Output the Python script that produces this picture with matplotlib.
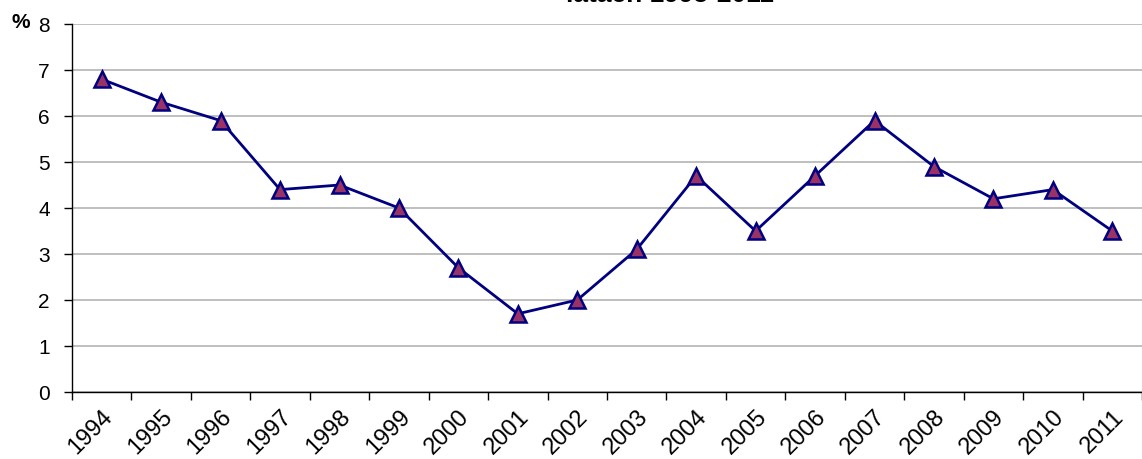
import matplotlib
matplotlib.use("Agg")
import matplotlib.pyplot as plt
import matplotlib.transforms as mtransforms
import numpy as np

years = ["1994", "1995", "1996", "1997", "1998", "1999", "2000", "2001", "2002",
         "2003", "2004", "2005", "2006", "2007", "2008", "2009", "2010", "2011"]
values = [6.8, 6.3, 5.9, 4.4, 4.5, 4.0, 2.7, 1.7, 2.0,
          3.1, 4.7, 3.5, 4.7, 5.9, 4.9, 4.2, 4.4, 3.5]
yticks = [0, 1, 2, 3, 4, 5, 6, 7, 8]
title = "latach 1995-2011"

plt.rcParams['font.family'] = ['Liberation Sans', 'DejaVu Sans']

fig = plt.figure(figsize=(11.42, 4.59), dpi=100)
ax = fig.add_axes([72/1142, 1 - 392/459, (1142 - 72)/1142, (392 - 24)/459])

x = np.arange(len(years))
ax.plot(x, values, color='#000080', lw=2.0, marker='^', markersize=11,
        markerfacecolor='#993366', markeredgecolor='#000080', markeredgewidth=1.8,
        zorder=3, clip_on=False)

ax.set_xlim(-0.5, len(years) - 0.5)
ax.set_ylim(0, 8)
ax.set_yticks(yticks)
ax.set_yticklabels([str(v) for v in yticks], fontsize=15)
ax.yaxis.grid(True, color='#b4b4b4', lw=1.2)
ax.set_axisbelow(True)

ax.set_xticks(np.arange(len(years) + 1) - 0.5)
ax.set_xticklabels([])
ax.set_xticks(x, minor=True)
ax.set_xticklabels(years, minor=True, rotation=45, ha='right', va='top',
                   rotation_mode='anchor', fontsize=17)
offset = mtransforms.ScaledTranslation(7/100, 0, fig.dpi_scale_trans)
for lab in ax.get_xticklabels(minor=True):
    lab.set_transform(lab.get_transform() + offset)
ax.tick_params(axis='x', which='minor', length=0, pad=10)
ax.tick_params(axis='x', which='major', length=6, direction='out', width=1)
ax.tick_params(axis='y', length=6, direction='out', width=1, pad=10)

for s in ['top', 'right']:
    ax.spines[s].set_visible(False)
for s in ['left', 'bottom']:
    ax.spines[s].set_color('black')
    ax.spines[s].set_linewidth(1.0)

fig.text(12/1142, 1 - 22/459, "%", fontsize=15, fontweight='bold', va='center', ha='left')
fig.text(670/1142, 1 - 7/459, title, fontsize=19, fontweight='bold', ha='center', va='bottom')

fig.savefig("out.png", dpi=100)
